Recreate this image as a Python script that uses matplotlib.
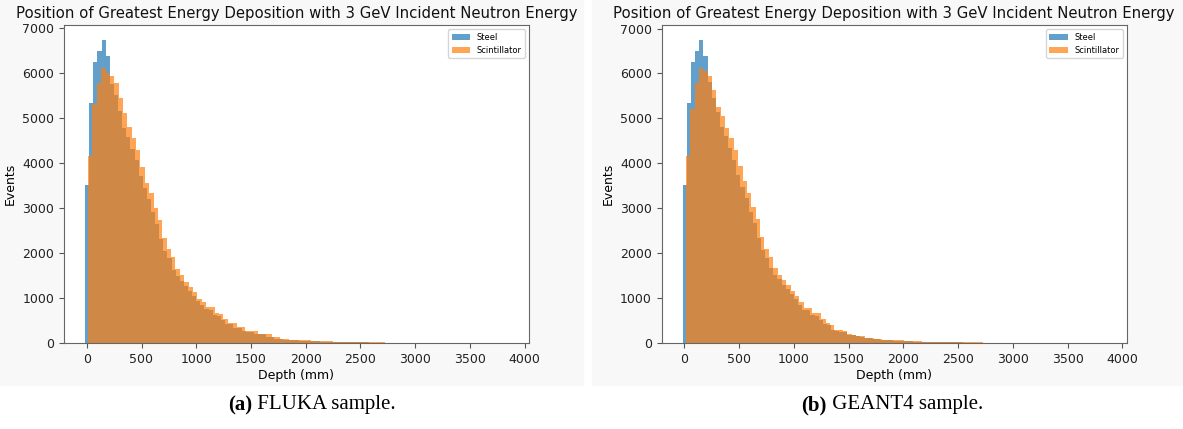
import numpy as np
import matplotlib
matplotlib.use("Agg")
import matplotlib.pyplot as plt
from matplotlib.patches import Rectangle

# bin layout (mm): steel bins are a bit narrower and start below zero
STEEL_START, STEEL_WIDTH, STEEL_NBINS = -15.0, 37.6, 100
SCINT_START, SCINT_WIDTH, SCINT_NBINS = 12.0, 39.9, 96

# FLUKA sample - events per bin
fluka_steel = [
    3500, 5330, 6230, 6480, 6720, 6370, 5750, 5500, 5150, 4760,
    4560, 4300, 4050, 3700, 3450, 3200, 2900, 2650, 2300, 2050,
    1880, 1620, 1480, 1380, 1270, 1150, 1050, 930, 850, 760,
    730, 620, 600, 500, 420, 415, 340, 330, 265, 255,
    250, 205, 200, 195, 130, 128, 95, 90, 74, 70,
    58, 56, 55, 42, 38, 36, 35, 33, 30, 24,
    20, 19, 18, 17, 16, 15, 14, 13, 12, 11,
    10, 6, 2, 1, 0, 0, 0, 0, 0, 0,
    0, 0, 0, 0, 0, 0, 0, 0, 0, 0,
    0, 0, 0, 0, 0, 0, 0, 0, 0, 0,
]
fluka_scint = [
    4160, 5300, 5760, 6110, 6000, 5920, 5780, 5430, 5100, 4800,
    4550, 4280, 3910, 3560, 3320, 3000, 2740, 2320, 2075, 1910,
    1650, 1500, 1355, 1245, 1135, 985, 910, 800, 790, 655,
    645, 530, 445, 440, 355, 350, 270, 265, 260, 210,
    205, 200, 135, 130, 98, 95, 76, 72, 60, 58,
    56, 42, 40, 38, 37, 35, 30, 24, 23, 22,
    21, 20, 18, 17, 16, 16, 15, 14, 4, 1,
    1, 1, 0, 0, 0, 0, 0, 0, 0, 0,
    0, 0, 0, 0, 0, 0, 0, 0, 0, 0,
    0, 0, 0, 0, 0, 0,
]

# GEANT4 sample - events per bin
geant4_steel = [
    3526, 5345, 6258, 6496, 6741, 6384, 5800, 5450, 5150, 4800,
    4600, 4350, 4080, 3750, 3480, 3220, 2920, 2680, 2330, 2070,
    1900, 1680, 1520, 1420, 1300, 1200, 1090, 980, 850, 740,
    730, 630, 610, 510, 425, 400, 290, 270, 255, 250,
    180, 175, 145, 140, 108, 105, 92, 90, 72, 70,
    56, 55, 54, 42, 38, 34, 32, 29, 26, 22,
    19, 18, 17, 16, 15, 14, 13, 12, 11, 10,
    9, 5, 1, 0, 0, 0, 0, 0, 0, 0,
    0, 0, 0, 0, 0, 0, 0, 0, 0, 0,
    0, 0, 0, 0, 0, 0, 0, 0, 0, 0,
]
geant4_scint = [
    4160, 5200, 5790, 6125, 6050, 5940, 5640, 5250, 5050, 4780,
    4560, 4300, 3950, 3600, 3330, 3020, 2760, 2350, 2100, 1920,
    1680, 1520, 1400, 1300, 1150, 1040, 905, 780, 770, 665,
    660, 535, 445, 410, 300, 280, 260, 190, 185, 150,
    148, 115, 110, 96, 95, 75, 74, 60, 58, 57,
    45, 40, 37, 35, 33, 30, 26, 23, 22, 21,
    20, 19, 17, 16, 15, 15, 14, 13, 4, 1,
    0, 0, 0, 0, 0, 0, 0, 0, 0, 0,
    0, 0, 0, 0, 0, 0, 0, 0, 0, 0,
    0, 0, 0, 0, 0, 0,
]

panels = [
    ("(a)", " FLUKA sample.", fluka_steel, fluka_scint),
    ("(b)", " GEANT4 sample.", geant4_steel, geant4_scint),
]

TITLE = "Position of Greatest Energy Deposition with 3 GeV Incident Neutron Energy"

steel_edges = STEEL_START + STEEL_WIDTH * np.arange(STEEL_NBINS + 1)
scint_edges = SCINT_START + SCINT_WIDTH * np.arange(SCINT_NBINS + 1)

W, H = 1183, 429
fig = plt.figure(figsize=(W / 100, H / 100), dpi=100)

# light grey backdrop of the two embedded screenshots
fig.patches.append(Rectangle((0, 1 - 385 / H), 583 / W, 385 / H,
                             transform=fig.transFigure, color="#f8f8f8", zorder=-10))
fig.patches.append(Rectangle((592 / W, 1 - 385 / H), (W - 592) / W, 385 / H,
                             transform=fig.transFigure, color="#f8f8f8", zorder=-10))

ax_lefts = [64, 661.7]
cap_x = [252, 827]

for (tag, caption, steel, scint), x0, cx in zip(panels, ax_lefts, cap_x):
    ax = fig.add_axes([x0 / W, 1 - 343 / H, 465 / W, 318 / H])
    ax.hist(steel_edges[:-1], bins=steel_edges, weights=steel, alpha=0.7, label="Steel")
    ax.hist(scint_edges[:-1], bins=scint_edges, weights=scint, alpha=0.7, label="Scintillator")
    ax.set_xlim(-208, 4040)
    ax.set_yticks(np.arange(0, 7001, 1000))
    ax.set_xticks(np.arange(0, 4001, 500))
    ax.tick_params(labelsize=9, color="#555555", labelcolor="#222222")
    for s in ax.spines.values():
        s.set_color("#666666")
    ax.set_title(TITLE, fontsize=10.7, color="#111111", pad=5)
    ax.set_xlabel("Depth (mm)", fontsize=9, labelpad=2)
    ax.set_ylabel("Events", fontsize=9, labelpad=4)
    ax.legend(loc="upper right", fontsize=6, frameon=True, handlelength=2.2)

    fig.text(cx / W, 1 - 405 / H, tag, fontsize=15, fontweight="bold",
             family="Liberation Serif", ha="right", va="center")
    fig.text(cx / W, 1 - 405 / H, caption, fontsize=15,
             family="Liberation Serif", ha="left", va="center")

fig.savefig("out.png", dpi=100)
